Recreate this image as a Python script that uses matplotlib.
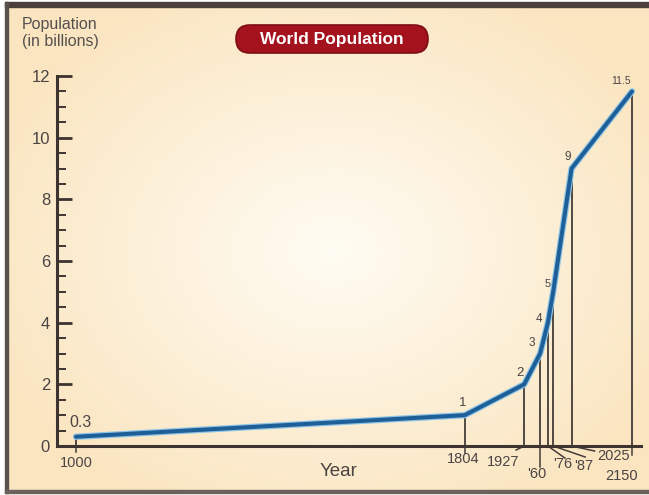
import numpy as np
import matplotlib.pyplot as plt
from matplotlib.patches import FancyBboxPatch, Rectangle

plt.rcParams['font.family'] = ['Liberation Sans', 'DejaVu Sans']

# --- data ---
years = [1000, 1804, 1927, 1960, 1976, 1987, 2025, 2150]
population = [0.3, 1, 2, 3, 4, 5, 9, 11.5]
value_labels = ['0.3', '1', '2', '3', '4', '5', '9', '11.5']
year_labels = ['1000', '1804', '1927', "'60", "'76", "'87", '2025', '2150']

# label offsets in pixels (value labels above points, year labels below axis)
value_offsets = [(4, 14), (-2, 12), (-4, 11), (-8, 10), (-9, 4), (-6, 8), (-4, 11), (-11, 10)]
value_sizes = [11.5, 9.5, 9.5, 8.5, 8.5, 8, 8.5, 7.5]
year_offsets = [(0, -17), (-2, -13), (-21, -16), (-3, -28), (15, -18), (30, -20), (42, -10), (-10, -30)]
leader_ends = [(0, -6), (0, -7), (-8, -4), (0, -21), (17, -12), (32, -11), (23, -5), (0, -9)]

W, H = 649, 495
fig = plt.figure(figsize=(W / 100, H / 100), dpi=100)

# --- background with radial gradient and frame ---
bg = fig.add_axes([0, 0, 1, 1])
bg.set_xlim(0, W)
bg.set_ylim(H, 0)
bg.axis('off')
gx, gy = np.meshgrid(np.linspace(0, W, 200), np.linspace(0, H, 160))
r = np.sqrt(((gx - 330) / 380) ** 2 + ((gy - 250) / 300) ** 2)
r = np.clip(r, 0, 1)
c0 = np.array([255, 252, 243]) / 255
c1 = np.array([250, 229, 192]) / 255
img = c0[None, None, :] * (1 - r[..., None]) + c1[None, None, :] * r[..., None]
bg.imshow(img, extent=(7, W + 1, 491, 5), aspect='auto', zorder=0)
bg.add_patch(Rectangle((5, 2), W, 5, color='#4a403c', zorder=1))
bg.add_patch(Rectangle((5, 2), 2.5, 491, color='#5a504c', zorder=1))
bg.add_patch(Rectangle((5, 490), W, 2.5, color='#6a605c', zorder=1))

# title box
bg.add_patch(FancyBboxPatch((236, 25), 192, 28, boxstyle='round,pad=0,rounding_size=14',
                            fc='#a3121d', ec='#7d0d15', lw=1.2, zorder=2))
bg.text(332, 39.5, 'World Population', color='white', fontsize=12.5, fontweight='bold',
        ha='center', va='center', zorder=3)
bg.text(22, 33, 'Population\n(in billions)', color='#555050', fontsize=11.5,
        ha='left', va='center', linespacing=1.15, zorder=3)
bg.text(339, 471, 'Year', color='#4a4444', fontsize=13.5, ha='center', va='center', zorder=3)

# --- main axes ---
x_left, x_right = 960.7, 2168.6
ax = fig.add_axes([57 / W, (H - 446) / H, (641 - 57) / W, (446 - 76) / H])
ax.patch.set_alpha(0)
ax.set_xlim(x_left, x_right)
ax.set_ylim(0, 12)
for s in ['top', 'right']:
    ax.spines[s].set_visible(False)
for s in ['left', 'bottom']:
    ax.spines[s].set_color('#3d3431')
    ax.spines[s].set_linewidth(2.2)
ax.set_xticks([])
ax.set_yticks(np.arange(0, 13, 2))
ax.set_yticks(np.arange(0, 12.1, 0.5), minor=True)
ax.tick_params(axis='y', which='major', direction='in', length=11, width=2,
               color='#3d3431', labelsize=12, labelcolor='#4a4444', pad=5)
ax.tick_params(axis='y', which='minor', direction='in', length=6.5, width=1.4,
               color='#3d3431')

px_per_year = (641 - 57) / (x_right - x_left)
px_per_unit = (446 - 76) / 12

# drop lines
ax.vlines(years, 0, population, color='#453c38', lw=1.3, zorder=2)

# population curve (light halo + dark blue core)
ax.plot(years, population, color='#8cc3e6', lw=4.6, solid_capstyle='round',
        solid_joinstyle='round', zorder=3, clip_on=False)
ax.plot(years, population, color='#1f5f98', lw=2.9, solid_capstyle='round',
        solid_joinstyle='round', zorder=4, clip_on=False)

for yr, v, lab, (dx, dy), fs in zip(years, population, value_labels, value_offsets, value_sizes):
    ax.annotate(lab, (yr, v), xytext=(dx, dy), textcoords='offset pixels',
                ha='center', va='center', fontsize=fs, color='#4a4444',
                annotation_clip=False)

for yr, lab, (dx, dy), (lx, ly) in zip(years, year_labels, year_offsets, leader_ends):
    ax.plot([yr, yr + lx / px_per_year], [0, ly / px_per_unit], color='#453c38',
            lw=1.1, clip_on=False, zorder=2)
    ax.annotate(lab, (yr, 0), xytext=(dx, dy), textcoords='offset pixels',
                ha='center', va='center', fontsize=10.5, color='#4a4444',
                annotation_clip=False)

fig.savefig('out.png', dpi=100)
